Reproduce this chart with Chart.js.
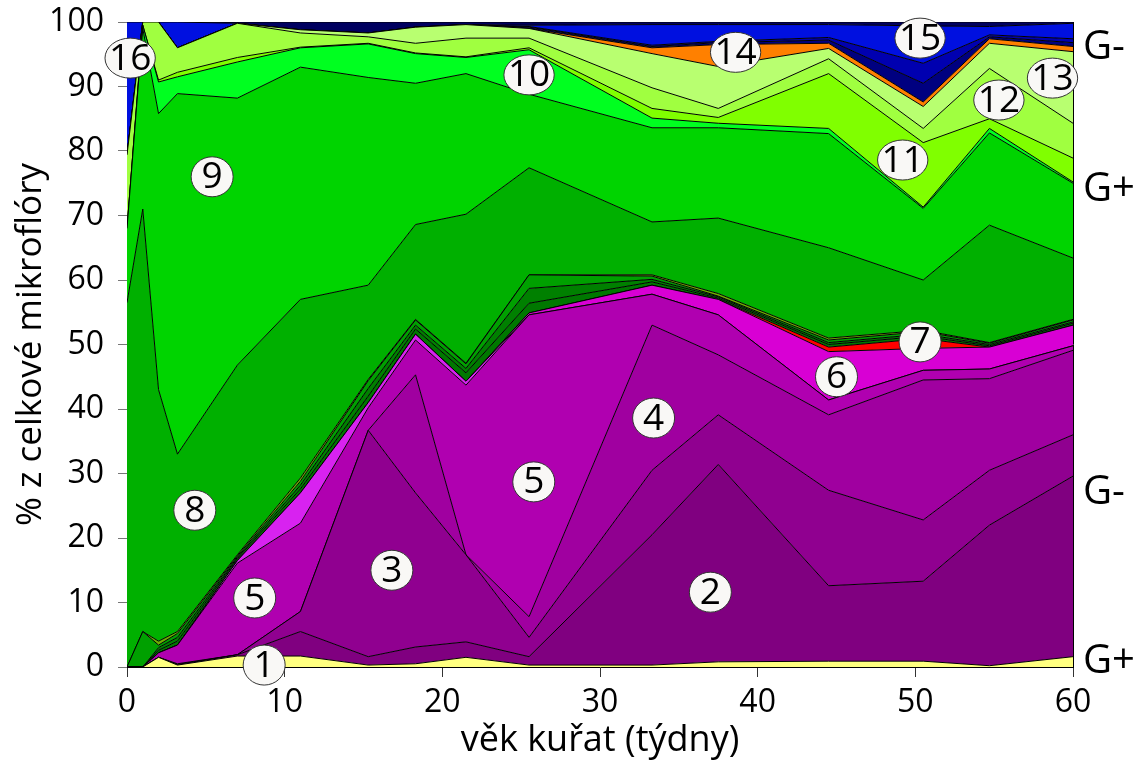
<!DOCTYPE html>
<html lang="cs">
<head>
<meta charset="UTF-8">
<title>Mikroflóra kuřat</title>
<script src="https://cdn.jsdelivr.net/npm/chart.js@4.4.1/dist/chart.umd.min.js"></script>
<style>
  html, body { margin: 0; padding: 0; background: #fff; }
  #wrap { width: 1140px; height: 762px; position: relative; }
</style>
</head>
<body>
<div id="wrap"><canvas id="graf"></canvas></div>
<script>
// ===== DATA (horní hranice vrstev, kumulativně v %) =====
const weeks = [0, 1, 2, 3.2, 7, 11, 15.3, 18.3, 21.5, 25.5, 33.3, 37.5, 44.5, 50.5, 54.7, 60];

const top1  = [0, 0, 1.5, 0.3, 1.7, 1.7, 0.3, 0.5, 1.5, 0.3, 0.3, 0.8, 0.9, 0.9, 0.2, 1.6];
const top2  = [0, 0, 1.5, 0.3, 1.9, 5.5, 1.6, 3.1, 3.9, 1.6, 20.5, 31.4, 12.6, 13.3, 22, 29.6];
const top3  = [0, 0, 1.5, 0.4, 1.9, 8.6, 36.7, 27, 17.4, 4.6, 30.5, 39.1, 27.4, 22.8, 30.5, 36];
const top4  = [0, 0, 1.5, 0.5, 1.9, 8.6, 36.7, 45.3, 17.4, 7.8, 53, 48.4, 39.1, 44.5, 44.7, 49.1];
const top5  = [0, 0, 2.2, 3.4, 16.1, 22.3, 40.2, 50.7, 43.7, 54.6, 57.8, 54.6, 41.4, 46, 46.2, 49.8];
const top6a = [0, 0, 2.2, 3.4, 16.5, 27, 41, 51.6, 44.3, 54.6, 57.8, 54.6, 41.4, 46, 46.2, 49.8];
const top6  = [0, 0, 2.2, 3.4, 16.5, 27, 41, 51.6, 44.3, 54.9, 59.2, 57, 48.9, 49.4, 49.6, 53];
const top7  = [0, 0, 2.2, 3.4, 16.5, 27, 41, 51.6, 44.3, 54.9, 59.2, 57, 49.6, 50.9, 49.6, 53];
const topG2 = [0, 0, 2.6, 4.0, 16.8, 27.6, 42, 52.4, 45.6, 56.4, 59.7, 57.2, 50.0, 51.3, 49.8, 53.3];
const topG3 = [0, 0, 3.0, 4.6, 17.0, 28.2, 43.2, 53.0, 46.3, 58.7, 60.1, 57.4, 50.3, 51.6, 50.0, 53.5];
const topG4 = [0, 5.5, 3.4, 5.2, 17.2, 28.8, 44.4, 53.8, 47, 60.8, 60.6, 57.5, 50.7, 52, 50.2, 53.8];
const topG1 = [0, 5.5, 4.0, 5.5, 17.4, 29.3, 44.6, 53.9, 47.1, 60.8, 60.8, 57.9, 51.0, 52.2, 50.3, 53.9];
const top8  = [56.5, 71, 43, 33, 46.8, 57, 59.2, 68.6, 70.2, 77.4, 69, 69.6, 65, 60, 68.5, 63.4];
const top9  = [68, 99, 85.8, 88.9, 88.2, 93, 91.4, 90.5, 92, 88.8, 83.6, 83.6, 82.7, 71.1, 82.8, 75];
const top10 = [68, 99.5, 90.7, 91.5, 93.8, 96, 96.6, 95.1, 94.5, 95.7, 85.1, 84.3, 83.5, 71.3, 83.5, 75.2];
const top11 = [68, 99.5, 91, 92.2, 94.5, 96.1, 96.7, 95.2, 94.6, 96, 86.6, 85.2, 92, 81.3, 85, 78.9];
const top12 = [79.4, 100, 100, 96, 99.8, 98.3, 97.7, 96.7, 97.5, 97.5, 89.8, 86.6, 94.3, 83.5, 92.8, 84.3];
const top13 = [79.4, 100, 100, 96, 99.8, 98.8, 98.3, 99.2, 99.6, 99, 95.1, 93.1, 95.9, 86.9, 96.7, 95.4];
const top14 = [79.4, 100, 100, 96, 99.8, 98.8, 98.3, 99.2, 99.6, 99, 96.0, 96.5, 96.7, 87.6, 97.4, 96.2];
const topN1 = [79.4, 100, 100, 96, 99.8, 98.8, 98.3, 99.2, 99.6, 99.2, 96.2, 96.8, 97.2, 90.5, 97.7, 96.8];
const topN2 = [79.4, 100, 100, 96, 99.8, 98.8, 98.3, 99.2, 99.6, 99.3, 96.4, 97.0, 97.6, 93.6, 98.0, 97.4];
const top15 = [100, 100, 100, 100, 99.8, 98.8, 98.3, 99.2, 99.6, 99.5, 99.6, 99.6, 99.6, 99.4, 99.3, 99.8];
const top16 = [100, 100, 100, 100, 100, 100, 100, 100, 100, 100, 100, 100, 100, 100, 100, 100];

// popisky vrstev (text, týden, %)
const labelTexts = ['16', '9', '8', '5', '1', '3', '10', '5', '4', '2', '14', '6', '15', '7', '11', '12', '13'];
const labelWeeks = [0.2, 5.4, 4.3, 8.1, 8.7, 16.8, 25.5, 25.8, 33.4, 37.0, 38.6, 45.0, 50.3, 50.3, 49.2, 55.3, 58.7];
const labelPcts  = [94.4, 76, 24.3, 10.7, 0.3, 15, 91.8, 28.7, 38.6, 11.6, 95.3, 45, 97.5, 50.4, 78.6, 87.9, 91.3];

// skupiny vpravo
const groupTexts = ['G-', 'G+', 'G-', 'G+'];
const groupPcts  = [96, 74, 27, 0.8];

// ===== VRSTVY =====
const layers = [
    { data: top1,  color: '#ffff80' },
    { data: top2,  color: '#800080' },
    { data: top3,  color: '#900090' },
    { data: top4,  color: '#a000a0' },
    { data: top5,  color: '#b000b0' },
    { data: top6a, color: '#d822f0' },
    { data: top6,  color: '#d800d4' },
    { data: top7,  color: '#ff0000' },
    { data: topG2, color: '#007800' },
    { data: topG3, color: '#008000' },
    { data: topG4, color: '#00a000' },
    { data: topG1, color: '#70b000' },
    { data: top8,  color: '#00b000' },
    { data: top9,  color: '#00d400' },
    { data: top10, color: '#00ff20' },
    { data: top11, color: '#80ff00' },
    { data: top12, color: '#a0ff40' },
    { data: top13, color: '#b8ff70' },
    { data: top14, color: '#ff8000' },
    { data: topN1, color: '#000080' },
    { data: topN2, color: '#0000b0' },
    { data: top15, color: '#0010e0' },
    { data: top16, color: '#000060' }
];

const datasets = layers.map((l, i) => ({
    data: weeks.map((w, j) => ({ x: w, y: l.data[j] })),
    backgroundColor: l.color,
    borderColor: '#000',
    borderWidth: 1,
    pointRadius: 0,
    tension: 0,
    fill: i === 0 ? 'origin' : '-1'
}));

// ===== POPISKY =====
const popisky = {
    id: 'popisky',
    afterDraw(chart) {
        const { ctx, chartArea, scales } = chart;
        const x = scales.x, y = scales.y;
        ctx.save();

        // pravý okraj
        ctx.strokeStyle = '#000';
        ctx.lineWidth = 1;
        ctx.beginPath();
        ctx.moveTo(chartArea.right + 0.5, chartArea.top);
        ctx.lineTo(chartArea.right + 0.5, chartArea.bottom);
        ctx.stroke();

        // kolečka s čísly
        ctx.font = '37px "Open Sans"';
        ctx.textAlign = 'center';
        ctx.textBaseline = 'middle';
        labelTexts.forEach((t, i) => {
            const px = x.getPixelForValue(labelWeeks[i]);
            const py = y.getPixelForValue(labelPcts[i]);
            const w = ctx.measureText(t).width;
            const rx = Math.max(21, w / 2 + 4);
            ctx.beginPath();
            ctx.ellipse(px, py, rx, 20, 0, 0, Math.PI * 2);
            ctx.fillStyle = '#f9f8f6';
            ctx.fill();
            ctx.strokeStyle = '#333';
            ctx.lineWidth = 1;
            ctx.stroke();
            ctx.fillStyle = '#000';
            ctx.fillText(t, px, py + 1);
        });

        // G+ / G-
        ctx.font = '40px "Open Sans"';
        ctx.textAlign = 'left';
        groupTexts.forEach((t, i) => {
            ctx.fillText(t, chartArea.right + 10, y.getPixelForValue(groupPcts[i]));
        });
        ctx.restore();
    }
};

// ===== GRAF =====
new Chart(document.getElementById('graf'), {
    type: 'line',
    data: { datasets: datasets },
    options: {
        responsive: true,
        maintainAspectRatio: false,
        animation: false,
        layout: { padding: { top: 22, right: 67, left: 0, bottom: 0 } },
        plugins: {
            legend: { display: false },
            tooltip: { enabled: false }
        },
        scales: {
            x: {
                type: 'linear',
                min: 0,
                max: 60,
                afterFit: (s) => { s.height = 95; s.paddingLeft = 0; s.paddingRight = 0; },
                ticks: { stepSize: 10, color: '#000', padding: 7, font: { family: 'Open Sans', size: 32 } },
                grid: { drawOnChartArea: false, tickLength: 10, color: '#333' },
                border: { color: '#000' },
                title: {
                    display: true,
                    text: 'věk kuřat (týdny)',
                    color: '#000',
                    padding: { top: 0, bottom: 0 },
                    font: { family: 'Open Sans', size: 36 }
                }
            },
            y: {
                min: 0,
                max: 100,
                afterFit: (s) => { s.width = 127; s.paddingTop = 0; s.paddingBottom = 0; },
                ticks: { stepSize: 10, color: '#000', padding: 14, font: { family: 'Open Sans', size: 32 } },
                grid: { drawOnChartArea: false, tickLength: 9, color: '#777' },
                border: { display: false },
                title: {
                    display: true,
                    text: '% z celkové mikroflóry',
                    color: '#000',
                    padding: { top: 10, bottom: 0 },
                    font: { family: 'Open Sans', size: 35 }
                }
            }
        }
    },
    plugins: [popisky]
});
</script>
</body>
</html>
